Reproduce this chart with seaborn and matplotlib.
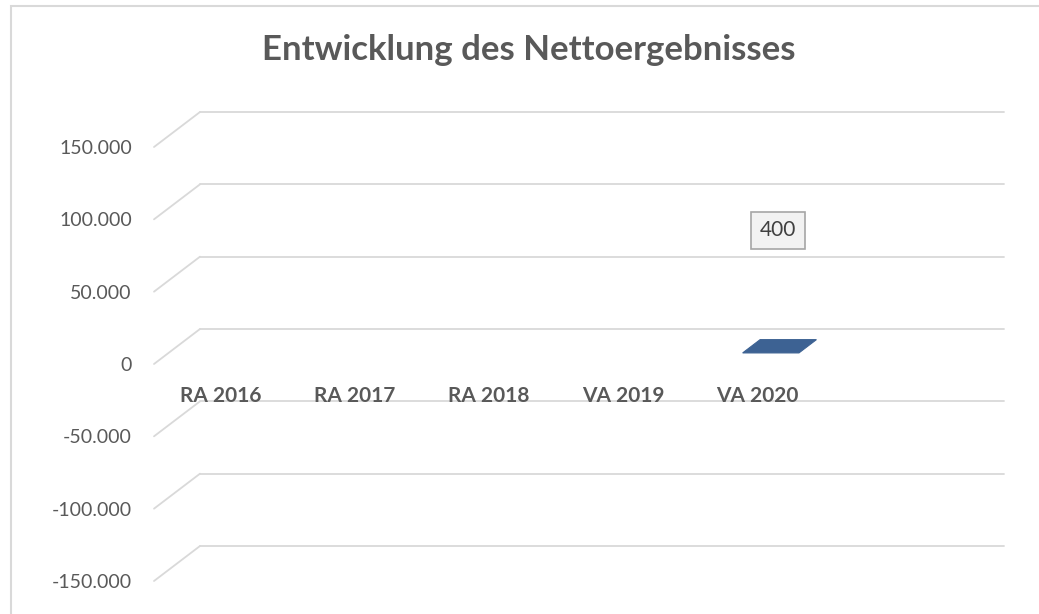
import matplotlib.pyplot as plt
import matplotlib.transforms as mtransforms
from matplotlib.patches import Polygon, Rectangle
from matplotlib.lines import Line2D
import numpy as np
import pandas as pd
import seaborn as sns

# data
categories = ["RA 2016", "RA 2017", "RA 2018", "VA 2019", "VA 2020"]
values = [np.nan, np.nan, np.nan, np.nan, 400]
y_ticks = [-150000, -100000, -50000, 0, 50000, 100000, 150000]
title = "Entwicklung des Nettoergebnisses"

BAR = "#3D6293"
GRID = "#d9d9d9"
TEXT = "#595959"

sns.set_style("white")
plt.rcParams['font.family'] = ['Lato', 'DejaVu Sans']

W, H, DPI = 1039, 614, 100
fig = plt.figure(figsize=(W / DPI, H / DPI), dpi=DPI)
ax = fig.add_axes([154 / W, 33 / H, 804 / W, 434 / H])
ax.patch.set_alpha(0)

DX, DY = 46, 35      # depth of the fake 3d floor in pixels
T1, T2 = 0.30, 0.68  # front / back depth of the columns


def depth(t):
    return ax.transData + mtransforms.ScaledTranslation(DX * t / DPI, DY * t / DPI, fig.dpi_scale_trans)


df = pd.DataFrame({"Jahr": categories, "Wert": values}).dropna()
order = categories + [" "]
sns.barplot(data=df, x="Jahr", y="Wert", order=order, width=0.42, color=BAR,
            saturation=1, errorbar=None, ax=ax, zorder=3)
ax.set_xlim(-0.5, len(order) - 0.5)
ax.set_ylim(y_ticks[0], y_ticks[-1])

# columns: shift front face back and add the top face
for p in list(ax.patches):
    x0, w = p.get_x(), p.get_width()
    top = p.get_y() + p.get_height()
    p.set_transform(depth(T1))
    front = depth(T1).transform([(x0, top), (x0 + w, top)])
    back = depth(T2).transform([(x0 + w, top), (x0, top)])
    ax.add_patch(Polygon(np.vstack([front, back]), closed=True,
                         transform=mtransforms.IdentityTransform(),
                         facecolor=BAR, edgecolor=BAR, lw=0.8, zorder=3, clip_on=False))

# gridlines: slanted side wall + back wall
for v in y_ticks:
    pf = ax.transData.transform((-0.5, v))
    pb = depth(1).transform((-0.5, v))
    ax.add_line(Line2D([pf[0], pb[0]], [pf[1], pb[1]], transform=mtransforms.IdentityTransform(),
                       color=GRID, lw=1.3, clip_on=False, zorder=0.5))
    ax.plot([-0.5, len(order) - 0.5], [v, v], transform=depth(1), color=GRID,
            lw=1.3, clip_on=False, zorder=0.5)

ax.set_xlim(-0.5, len(order) - 0.5)
ax.set_ylim(y_ticks[0], y_ticks[-1])

ax.set_yticks(y_ticks, labels=[f"{v:,.0f}".replace(",", ".") for v in y_ticks])
ax.tick_params(axis='y', length=0, pad=16, labelsize=14, labelcolor=TEXT)
ax.spines['bottom'].set_position(('data', 0))
ax.set_xticks(range(len(order)), labels=order)
ax.tick_params(axis='x', length=0, pad=16, labelsize=15, labelcolor=TEXT)
for t in ax.get_xticklabels():
    t.set_fontweight('bold')
ax.xaxis.set_zorder(4)
for s in ax.spines.values():
    s.set_visible(False)
ax.set_xlabel("")
ax.set_ylabel("")

# data label
i = categories.index("VA 2020")
ax.annotate(f"{values[i]:.0f}", xy=(i, values[i]), xytext=(21, 133), textcoords='offset pixels',
            ha='center', va='center', fontsize=15, color="#404040", annotation_clip=False,
            bbox=dict(boxstyle='square,pad=0.4', fc='#f2f2f2', ec='#a6a6a6', lw=1.2))

fig.text(529 / W, 1 - 50 / H, title, ha='center', va='center', fontsize=25,
         fontweight='bold', color=TEXT)

# chart border
fig.patches.append(Rectangle((11 / W, -0.1), 1.2, (H - 6) / H + 0.1, transform=fig.transFigure,
                             fill=False, ec=GRID, lw=1.5))

fig.savefig("out.png", dpi=DPI)
